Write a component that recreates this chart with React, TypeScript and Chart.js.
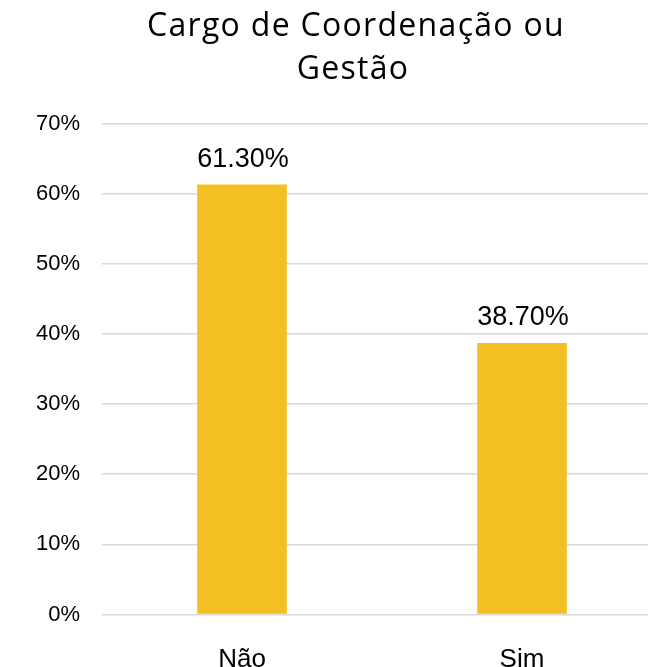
import React, { useEffect, useRef } from "react";
import { Chart, registerables } from "chart.js";

Chart.register(...registerables);

const categories = ["Não", "Sim"];
const values = [61.3, 38.7];
const valueLabels = ["61.30%", "38.70%"];
const titleLines = ["Cargo de Coordenação ou", "Gestão"];

const FONT = "'Liberation Sans', Arial, sans-serif";
const TITLE_FONT = "'Open Sans', sans-serif";

const titlePlugin = {
  id: "customTitle",
  afterDraw(chart: any) {
    const ctx = chart.ctx;
    ctx.save();
    ctx.fillStyle = "#000";
    ctx.font = `32px ${TITLE_FONT}`;
    try {
      (ctx as any).letterSpacing = "1.3px";
    } catch (e) {}
    ctx.textAlign = "center";
    ctx.textBaseline = "alphabetic";
    ctx.fillText(titleLines[0], 356, 36);
    ctx.fillText(titleLines[1], 353, 79);
    ctx.restore();
  },
};

const dataLabelPlugin = {
  id: "dataLabels",
  afterDatasetsDraw(chart: any) {
    const ctx = chart.ctx;
    const meta = chart.getDatasetMeta(0);
    ctx.save();
    ctx.fillStyle = "#000";
    ctx.font = `27px ${FONT}`;
    ctx.textAlign = "center";
    ctx.textBaseline = "alphabetic";
    meta.data.forEach((bar: any, i: number) => {
      ctx.fillText(valueLabels[i], bar.x + 1, bar.y - 18);
    });
    ctx.restore();
  },
};

export default function App() {
  const ref = useRef<HTMLCanvasElement | null>(null);
  useEffect(() => {
    if (!ref.current) return;
    const chart = new Chart(ref.current, {
      type: "bar",
      data: {
        labels: categories,
        datasets: [
          {
            data: values,
            backgroundColor: "#F3BF22",
            categoryPercentage: 1,
            barPercentage: 0.32,
          },
        ],
      },
      options: {
        animation: false,
        responsive: true,
        maintainAspectRatio: false,
        layout: { padding: { left: 0, right: 0, top: 123.5, bottom: 0 } },
        plugins: {
          legend: { display: false },
          tooltip: { enabled: false },
          title: { display: false },
        },
        scales: {
          x: {
            grid: { display: false },
            border: { display: false },
            ticks: {
              color: "#000",
              font: { family: FONT, size: 26 },
              padding: 22,
            },
            afterFit(scale: any) {
              scale.height = 52.5;
            },
          },
          y: {
            min: 0,
            max: 70,
            grid: { color: "#D9D9D9", lineWidth: 1.5, drawTicks: false },
            border: { display: false },
            ticks: {
              stepSize: 10,
              color: "#000",
              font: { family: FONT, size: 22 },
              padding: 22,
              callback: (v: any) => `${v}%`,
            },
            afterFit(scale: any) {
              scale.width = 102;
            },
          },
        },
      },
      plugins: [dataLabelPlugin, titlePlugin],
    });
    return () => chart.destroy();
  }, []);
  return (
    <div
      style={{
        position: "fixed",
        left: 0,
        top: 0,
        width: 648,
        height: 667,
        overflow: "hidden",
        background: "#fff",
      }}
    >
      <div style={{ position: "relative", width: 662, height: 667 }}>
        <canvas ref={ref} />
      </div>
    </div>
  );
}
